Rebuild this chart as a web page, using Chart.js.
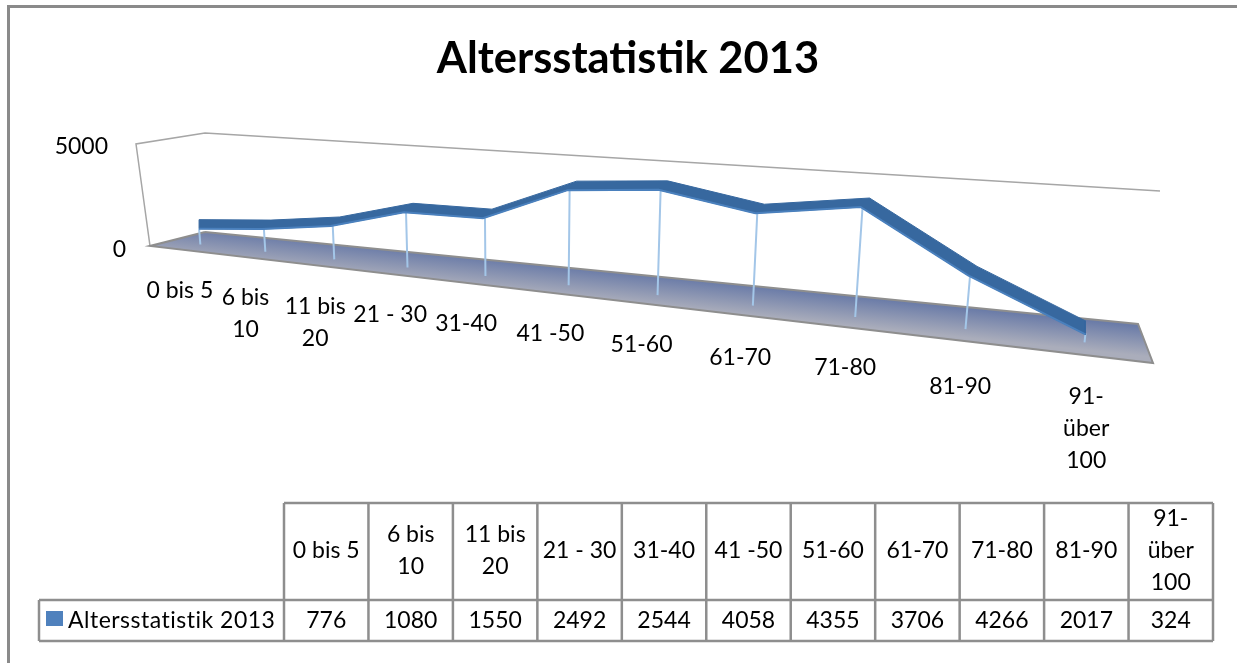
<!DOCTYPE html>
<html>
<head>
<meta charset="utf-8">
<title>Altersstatistik 2013</title>
<script src="https://cdn.jsdelivr.net/npm/chart.js@4"></script>
<style>
  html, body { margin: 0; background: #fff; }
  canvas { display: block; }
</style>
</head>
<body>
<canvas id="chart" width="1237" height="663"></canvas>
<script>
// Altersstatistik 2013 - 3D line look, projected onto plain linear scales

const titleText = 'Altersstatistik 2013';
const seriesName = 'Altersstatistik 2013';
const categories = ['0 bis 5', '6 bis\n10', '11 bis\n20', '21 - 30', '31-40', '41 -50', '51-60', '61-70', '71-80', '81-90', '91-\nüber\n100'];
const values = [776, 1080, 1550, 2492, 2544, 4058, 4355, 3706, 4266, 2017, 324];
const yTicks = [0, 5000];
const yMax = 5000;

const FONT = 'Lato, sans-serif';
const GREY = '#8e8e8e';

// corners of the box as it looks on the page
const floorBox = { bl: [205, 232], br: [1138, 324], fr: [1153, 363], fl: [150, 246] };
const topBox = { bl: [205, 133], br: [1160, 191], fr: [1166, 218], fl: [136, 144] };
const WARP = 1.45;       // right side of the chart is nearer, categories get wider
const LINE_DEPTH = 0.65;
// ribbon edges relative to the line point
const RIBBON_LOW = [-2, 0];
const RIBBON_UP = [7, -9];
// category labels do not follow the floor edge exactly
const labelShiftX = [-2, -3, -4, -4, -8, -9, -9, -8, -8, -6, -2];
const labelShiftY = [41, 40, 41, 40, 40, 40, 40, 42, 40, 45, 41];

const lerp = (a, b, t) => a + (b - a) * t;

function corner(box, s, d) {
  const bx = lerp(box.bl[0], box.br[0], s), by = lerp(box.bl[1], box.br[1], s);
  const fx = lerp(box.fl[0], box.fr[0], s), fy = lerp(box.fl[1], box.fr[1], s);
  return [lerp(bx, fx, d), lerp(by, fy, d)];
}

// s: 0..1 along the categories, d: 0 back .. 1 front
function projectAt(s, d, v) {
  const f = corner(floorBox, s, d), t = corner(topBox, s, d);
  return { x: lerp(f[0], t[0], v / yMax), y: lerp(f[1], t[1], v / yMax) };
}

function catPos(i) {
  const t = (i + 0.5) / categories.length;
  return t / (WARP - (WARP - 1) * t);
}

const project = (i, v, d = LINE_DEPTH) => projectAt(catPos(i), d, v);

const centre = values.map((v, i) => project(i, v));
const shifted = off => centre.map(p => ({ x: p.x + off[0], y: p.y + off[1] }));

// the ribbon ends are cut straight down at the first and last point
function cutEnds(edge) {
  const out = edge.slice();
  const cut = (a, b, x) => ({ x, y: a.y + (b.y - a.y) * (x - a.x) / (b.x - a.x) });
  const n = edge.length - 1;
  out[0] = cut(edge[0], edge[1], centre[0].x);
  out[n] = cut(edge[n - 1], edge[n], centre[n].x);
  return out;
}

const upper = cutEnds(shifted(RIBBON_UP));
const lower = cutEnds(shifted(RIBBON_LOW));
const ribbon = [...upper, ...lower.slice().reverse(), upper[0]];

const drops = [];
values.forEach((v, i) => {
  drops.push(project(i, 0), project(i, v), { x: NaN, y: NaN });
});

const floorOutline = [projectAt(0, 0, 0), projectAt(1, 0, 0), projectAt(1, 1, 0), projectAt(0, 1, 0), projectAt(0, 0, 0)];
const wall = [projectAt(0, 1, 0), projectAt(0, 1, yMax), projectAt(0, 0, yMax), projectAt(1, 0, yMax)];

// shading runs across the floor strip, square to its long edges
function floorFill(ctx) {
  const chart = ctx.chart;
  if (!chart.chartArea) return '#8a93b0';
  const { x, y } = chart.scales;
  const a = projectAt(0.5, 0, 0);
  const x0 = x.getPixelForValue(a.x), y0 = y.getPixelForValue(a.y);
  const g = chart.ctx.createLinearGradient(x0, y0, x0 - 3, y0 + 29);
  g.addColorStop(0, '#6b7ca8');
  g.addColorStop(1, '#aaadbb');
  return g;
}

function multiline(ctx, text, x, y, lh) {
  const lines = text.split('\n');
  lines.forEach((l, k) => ctx.fillText(l, x, y + (k - (lines.length - 1) / 2) * lh));
}

// frame, axis texts and data table
const extras = {
  id: 'extras',
  afterDraw(chart) {
    const { ctx } = chart;
    const { x, y } = chart.scales;
    ctx.save();
    // the frame is cut off on the right and at the bottom
    ctx.strokeStyle = '#8a8a8a';
    ctx.lineWidth = 3;
    ctx.beginPath();
    ctx.moveTo(8.5, 663); ctx.lineTo(8.5, 6.5); ctx.lineTo(1237, 6.5);
    ctx.stroke();

    ctx.fillStyle = '#000';
    ctx.font = '23px ' + FONT;
    ctx.textBaseline = 'middle';

    ctx.textAlign = 'right';
    yTicks.forEach(t => {
      const p = projectAt(0, 1, t);
      ctx.fillText(String(t), x.getPixelForValue(p.x) - (t ? 28 : 24), y.getPixelForValue(p.y) + (t ? 3 : 4));
    });

    ctx.textAlign = 'center';
    categories.forEach((c, i) => {
      const p = project(i, 0, 1);
      const rows = c.split('\n').length;
      const lx = x.getPixelForValue(p.x) + labelShiftX[i];
      const ly = y.getPixelForValue(p.y) + labelShiftY[i] + (rows - 1) * 16;
      multiline(ctx, c, lx, ly, 32);
    });

    // data table
    const left = 39, colL = 284, colR = 1213, top = 503, mid = 600, bottom = 641;
    const w = (colR - colL) / categories.length;
    ctx.strokeStyle = GREY;
    ctx.lineWidth = 2.5;
    ctx.beginPath();
    ctx.moveTo(colL, top); ctx.lineTo(colR, top);
    ctx.moveTo(left, mid); ctx.lineTo(colR, mid);
    ctx.moveTo(left, bottom); ctx.lineTo(colR, bottom);
    ctx.moveTo(left, mid); ctx.lineTo(left, bottom);
    for (let k = 0; k <= categories.length; k++) {
      ctx.moveTo(colL + k * w, top); ctx.lineTo(colL + k * w, bottom);
    }
    ctx.stroke();

    categories.forEach((c, i) => {
      const cx = colL + (i + 0.5) * w;
      multiline(ctx, c, cx, 551, 32);
      ctx.fillText(String(values[i]), cx, 621);
    });

    ctx.fillStyle = '#4f81bd';
    ctx.fillRect(46, 611, 17, 15);
    ctx.fillStyle = '#000';
    ctx.textAlign = 'left';
    ctx.letterSpacing = '0.5px';
    ctx.fillText(seriesName, 68, 621);
    ctx.restore();
  }
};

new Chart(document.getElementById('chart'), {
  type: 'scatter',
  data: {
    datasets: [
      { label: seriesName, data: ribbon, showLine: true, fill: 'shape', backgroundColor: '#37689f', borderColor: '#37689f', borderWidth: 1, pointRadius: 0, order: 1 },
      { label: 'edge', data: lower, showLine: true, borderColor: '#4a80bd', borderWidth: 2, pointRadius: 0, order: 0 },
      { label: 'drops', data: drops, showLine: true, spanGaps: false, borderColor: '#a3c6e8', borderWidth: 2, pointRadius: 0, order: 2 },
      { label: 'floor', data: floorOutline, showLine: true, fill: 'shape', backgroundColor: floorFill, borderColor: GREY, borderWidth: 2, pointRadius: 0, order: 3 },
      { label: 'wall', data: wall, showLine: true, borderColor: '#a6a6a6', borderWidth: 1.5, pointRadius: 0, order: 4 }
    ]
  },
  options: {
    responsive: false,
    animation: false,
    layout: { padding: { left: 19, right: 0, top: 0, bottom: 0 } },
    plugins: {
      legend: { display: false },
      tooltip: { enabled: false },
      title: {
        display: true,
        text: titleText,
        color: '#000',
        font: { family: FONT, size: 43.5, weight: 'bold', lineHeight: 1.2 },
        padding: { top: 33, bottom: 4.8 }
      }
    },
    scales: {
      x: { type: 'linear', display: false, min: 19, max: 1237 },
      y: { type: 'linear', display: false, min: 90, max: 663, reverse: true }
    }
  },
  plugins: [extras]
});
</script>
</body>
</html>
